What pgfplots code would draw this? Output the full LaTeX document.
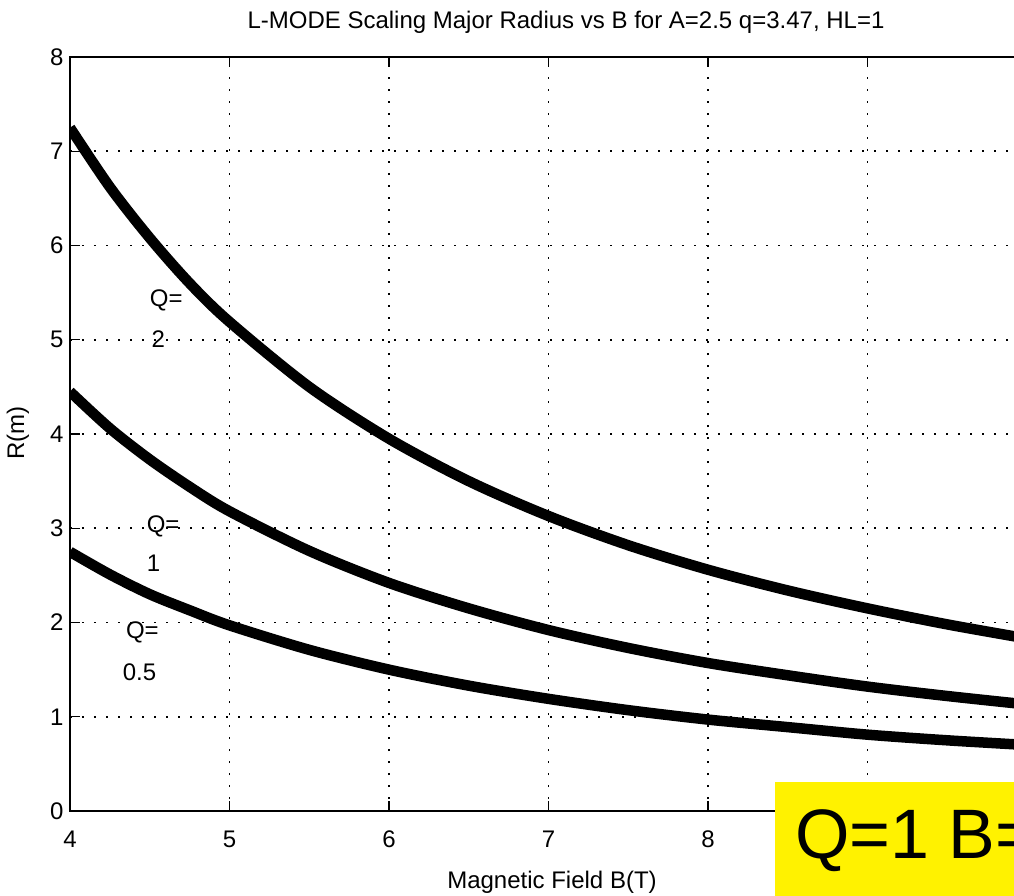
\documentclass[border=0pt]{standalone}
\usepackage{pgfplots}
\pgfplotsset{compat=1.18}
\usepackage{fontspec}
\setmainfont{Liberation Sans}
\begin{document}
\begin{tikzpicture}
\path[use as bounding box, clip] (-70pt,-84pt) rectangle (944pt,811pt);
\begin{axis}[
  anchor=south west, at={(0pt,0pt)},
  scale only axis, width=957pt, height=754pt,
  xmin=4, xmax=10, ymin=0, ymax=8,
  xtick={4,5,6,7,8,9,10}, ytick={0,1,2,3,4,5,6,7,8},
  xticklabels={4,5,6,7,8,,},
  /pgf/number format/assume math mode=true,
  tick label style={font=\fontsize{24}{28}\selectfont},
  xticklabel style={yshift=-16pt},
  yticklabel style={xshift=-3pt},
  major tick length=10pt, tick align=inside,
  tick style={black, line width=1.2pt},
  axis line style={line width=1.5pt},
  grid=major,
  major grid style={black, line width=1.6pt, dash pattern=on 1.6pt off 10.4pt},
  clip=true,
]
\addplot[black, line width=10.5pt, smooth] coordinates {
 (4,7.25) (4.25,6.62) (4.5,6.08) (4.75,5.60) (5,5.19) (5.5,4.50) (6,3.95) (6.5,3.50) (7,3.13) (7.5,2.82) (8,2.56) (8.5,2.34) (9,2.15) (9.5,1.98) (10,1.83)};
\addplot[black, line width=10.5pt, smooth] coordinates {
 (4,4.45) (4.25,4.06) (4.5,3.73) (4.75,3.44) (5,3.18) (5.5,2.76) (6,2.42) (6.5,2.15) (7,1.92) (7.5,1.73) (8,1.57) (8.5,1.44) (9,1.32) (9.5,1.22) (10,1.13)};
\addplot[black, line width=10.5pt, smooth] coordinates {
 (4,2.75) (4.25,2.51) (4.5,2.30) (4.75,2.13) (5,1.97) (5.5,1.71) (6,1.50) (6.5,1.33) (7,1.19) (7.5,1.07) (8,0.97) (8.5,0.89) (9,0.81) (9.5,0.75) (10,0.70)};
\node[anchor=west, inner sep=0pt, font=\fontsize{24}{28}\selectfont] at (axis cs:4.50,5.42) {Q=};
\node[anchor=west, inner sep=0pt, font=\fontsize{24}{28}\selectfont] at (axis cs:4.51,5.01) {2};
\node[anchor=west, inner sep=0pt, font=\fontsize{24}{28}\selectfont] at (axis cs:4.48,3.02) {Q=};
\node[anchor=west, inner sep=0pt, font=\fontsize{24}{28}\selectfont] at (axis cs:4.48,2.63) {1};
\node[anchor=west, inner sep=0pt, font=\fontsize{24}{28}\selectfont] at (axis cs:4.35,1.89) {Q=};
\node[anchor=west, inner sep=0pt, font=\fontsize{24}{28}\selectfont] at (axis cs:4.33,1.47) {0.5};
\end{axis}
\node[font=\fontsize{24}{28}\selectfont] at (496pt,789pt) {L-MODE Scaling Major Radius vs B for A=2.5 q=3.47, HL=1};
\node[font=\fontsize{24}{28}\selectfont] at (482pt,-71pt) {Magnetic Field B(T)};
\node[font=\fontsize{24}{28}\selectfont, rotate=90] at (-52pt,378pt) {R(m)};
\fill[yellow] (705pt,29pt) rectangle (950pt,-90pt);
\node[anchor=base west, inner sep=0pt, font=\fontsize{70}{80}\selectfont] at (725pt,-47pt) {Q=1 B=};
\end{tikzpicture}
\end{document}
